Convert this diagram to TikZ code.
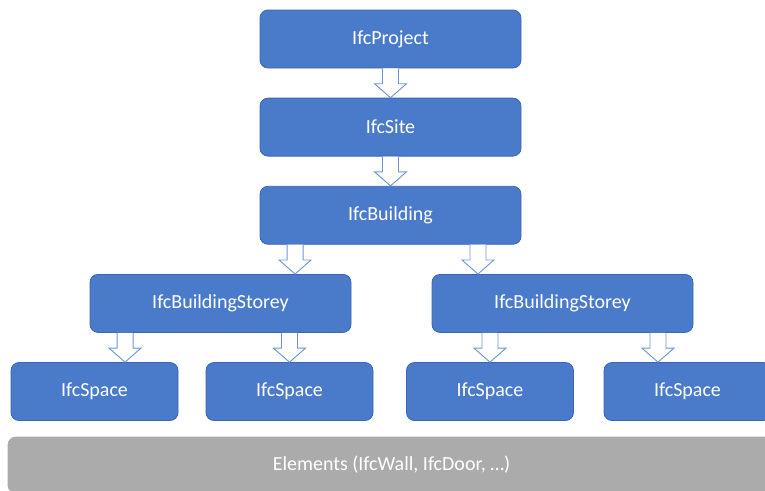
\documentclass[tikz,border=0pt]{standalone}
\usepackage{fontspec}
\setmainfont{Carlito}
\usetikzlibrary{positioning,calc}
\definecolor{ifcblue}{HTML}{4A7BCB}
\definecolor{ifcedge}{HTML}{3D66AE}
\definecolor{arrowblue}{HTML}{7096D8}
\definecolor{elemgray}{HTML}{ABABAB}
\begin{document}
\begin{tikzpicture}[x=0.75pt, y=0.75pt, node distance=22pt, font=\fontsize{15}{18}\selectfont]

    % Styles
    \tikzstyle{box}=[rectangle, draw=ifcedge, fill=ifcblue, rounded corners=6pt, text=white, align=center, minimum width=195.75pt, minimum height=43.5pt, line width=0.6pt]
    \tikzstyle{spacebox}=[box, minimum width=125.25pt]
    \tikzstyle{elembox}=[box, draw=elemgray, fill=elemgray, minimum width=575.25pt, minimum height=42pt]
    \tikzstyle{blockarrow}=[draw=arrowblue, fill=white, line width=0.7pt, to path={let \p1=(\tikztostart), \p2=(\tikztotarget) in (\x1-6pt,\y1) -- (\x1-6pt,\y2+10.5pt) -- (\x1-12pt,\y2+10.5pt) -- (\x1,\y2) -- (\x1+12pt,\y2+10.5pt) -- (\x1+6pt,\y2+10.5pt) -- (\x1+6pt,\y1)}]

    \useasboundingbox (0,0) rectangle (765,-490);

    % Noeuds
    \node[box] (proj) at (390.5,-39) {IfcProject};
    \node[box, below=of proj] (site) {IfcSite};
    \node[box, below=of site] (bldg) {IfcBuilding};
    \node[box, below=of bldg, xshift=-127.5pt] (storeyA) {IfcBuildingStorey};
    \node[box, below=of bldg, xshift=129pt] (storeyB) {IfcBuildingStorey};
    \node[spacebox, below=of storeyA, xshift=-94.5pt] (spaceA) {IfcSpace};
    \node[spacebox, below=of storeyA, xshift=51.75pt] (spaceB) {IfcSpace};
    \node[spacebox, below=of storeyB, xshift=-54.4pt] (spaceC) {IfcSpace};
    \node[spacebox, below=of storeyB, xshift=93.75pt] (spaceD) {IfcSpace};
    \node[elembox] (elem) at (391.5,-465) {Elements (IfcWall, IfcDoor, …)};

    % Fleches
    \draw[blockarrow] (proj.south) to (site.north);
    \draw[blockarrow] (site.south) to (bldg.north);
    \draw[blockarrow] ([xshift=-71.6pt]bldg.south) to (storeyA.north);
    \draw[blockarrow] ([xshift=65.6pt]bldg.south) to (storeyB.north);
    \draw[blockarrow] ([xshift=-71.6pt]storeyA.south) to (spaceA.north);
    \draw[blockarrow] (storeyA.south -| spaceB.north) to (spaceB.north);
    \draw[blockarrow] (storeyB.south -| spaceC.north) to (spaceC.north);
    \draw[blockarrow] ([xshift=71.6pt]storeyB.south) to (spaceD.north);

\end{tikzpicture}
\end{document}
